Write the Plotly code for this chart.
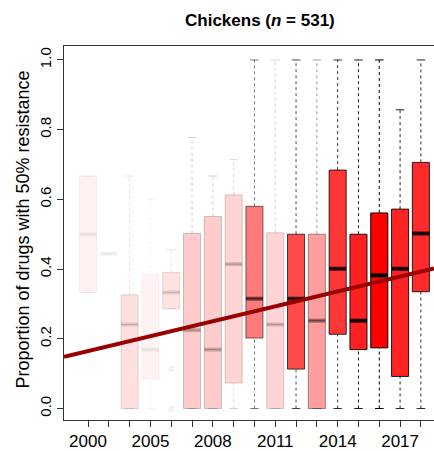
import plotly.graph_objects as go

# ---- data ----
years = ["2000", "2002", "2004", "2005", "2006", "2007", "2008", "2009", "2010",
         "2011", "2012", "2013", "2014", "2015", "2016", "2017", "2018"]
labelled_years = ["2000", "2005", "2008", "2011", "2014", "2017"]
q1 = [0.333, 0.444, 0.0, 0.085, 0.286, 0.0, 0.0, 0.073, 0.202, 0.0, 0.113, 0.0,
      0.213, 0.169, 0.174, 0.092, 0.335]
median = [0.5, 0.444, 0.241, 0.169, 0.333, 0.225, 0.169, 0.414, 0.315, 0.241, 0.315,
          0.252, 0.401, 0.252, 0.382, 0.401, 0.502]
q3 = [0.667, 0.444, 0.326, 0.385, 0.39, 0.502, 0.551, 0.613, 0.58, 0.504, 0.5, 0.5,
      0.684, 0.5, 0.561, 0.572, 0.706]
whisker_low = [0.333, 0.444, 0.0, 0.0, 0.286, 0.0, 0.0, 0.0, 0.0, 0.0, 0.0, 0.0,
               0.0, 0.0, 0.0, 0.0, 0.0]
whisker_high = [0.667, 0.444, 0.667, 0.6, 0.455, 0.777, 0.667, 0.714, 1.0, 1.0, 1.0,
                1.0, 1.0, 1.0, 1.0, 0.857, 1.0]
opacity = [0.05, 0.05, 0.12, 0.05, 0.11, 0.2, 0.2, 0.17, 0.52, 0.17, 0.71, 0.38,
           0.79, 0.87, 1.0, 0.86, 0.83]
outlier_year = ["2006", "2006"]
outlier_value = [0.115, 0.0]
trend_intercept = 0.1646   # fitted value at first category
trend_slope = 0.01427      # per category step

FONT = "Liberation Sans, Arial, Helvetica, sans-serif"
BOX_W = 0.82
CAP_W = 0.41

pos = list(range(len(years)))
fig = go.Figure()

for i, y in enumerate(years):
    a = opacity[i]
    edge = f"rgba(0,0,0,{a})"
    # dashed whiskers
    for lo, hi in ((q3[i], whisker_high[i]), (whisker_low[i], q1[i])):
        if hi > lo:
            fig.add_trace(go.Scatter(x=[i, i], y=[lo, hi], mode="lines",
                                     line=dict(color=edge, width=1, dash="3px,3px"),
                                     hoverinfo="skip", showlegend=False))
    # caps
    for v in (whisker_low[i], whisker_high[i]):
        fig.add_trace(go.Scatter(x=[i - CAP_W / 2, i + CAP_W / 2], y=[v, v], mode="lines",
                                 line=dict(color=edge, width=1),
                                 hoverinfo="skip", showlegend=False))
    # box body
    if q3[i] > q1[i]:
        fig.add_trace(go.Box(x=[i], q1=[q1[i]], median=[median[i]], q3=[q3[i]],
                             lowerfence=[q1[i]], upperfence=[q3[i]],
                             width=BOX_W, fillcolor=f"rgba(255,0,0,{a})",
                             line=dict(color=edge, width=1), boxpoints=False,
                             whiskerwidth=0, hoverinfo="skip", showlegend=False))
    # median
    fig.add_trace(go.Scatter(x=[i - BOX_W / 2, i + BOX_W / 2], y=[median[i], median[i]],
                             mode="lines", line=dict(color=edge, width=4),
                             hoverinfo="skip", showlegend=False))

# outliers
for oy, ov in zip(outlier_year, outlier_value):
    i = years.index(oy)
    fig.add_trace(go.Scatter(x=[i], y=[ov], mode="markers",
                             marker=dict(symbol="circle-open", size=4,
                                         color=f"rgba(0,0,0,{opacity[i]})", line=dict(width=1)),
                             hoverinfo="skip", showlegend=False))

# trend line across the whole x range
x_range = [-1.154, 16.63]
fig.add_trace(go.Scatter(x=x_range,
                         y=[trend_intercept + trend_slope * xv for xv in x_range],
                         mode="lines", line=dict(color="#990000", width=4),
                         hoverinfo="skip", showlegend=False))

ticktext = [y if y in labelled_years else "" for y in years]

fig.update_layout(
    width=434, height=451,
    margin=dict(l=64, r=0, t=46, b=24),
    paper_bgcolor="white", plot_bgcolor="white",
    boxmode="overlay",
    font=dict(family=FONT, color="black"),
    xaxis=dict(range=x_range, tickmode="array", tickvals=pos, ticktext=ticktext,
               ticks="outside", ticklen=6, tickwidth=1, tickcolor="#333",
               tickfont=dict(size=17, family=FONT),
               showline=True, linecolor="#333", linewidth=1, mirror=True,
               showgrid=False, zeroline=False),
    yaxis=dict(range=[-0.033, 1.04], tickmode="array",
               tickvals=[0, 0.2, 0.4, 0.6, 0.8, 1.0],
               ticktext=["0.0", "0.2", "0.4", "0.6", "0.8", "1.0"],
               tickangle=-90, ticks="outside", ticklen=6, tickwidth=1, tickcolor="#333",
               tickfont=dict(size=15, family=FONT),
               showline=True, linecolor="#333", linewidth=1, mirror=False,
               showgrid=False, zeroline=False),
    annotations=[
        dict(text="<b>Chickens (<i>n</i> = 531)</b>", xref="paper", yref="paper",
             x=(260 - 64) / 370, y=(427 - 20) / 381, xanchor="center", yanchor="middle",
             showarrow=False, font=dict(size=17, family=FONT)),
        dict(text="Proportion of drugs with 50% resistance", xref="paper", yref="paper",
             x=(23 - 64) / 370, y=(427 - 233) / 381, xanchor="center", yanchor="middle",
             textangle=-90, showarrow=False, font=dict(size=18, family=FONT)),
    ],
)

fig.write_html("out.html")
